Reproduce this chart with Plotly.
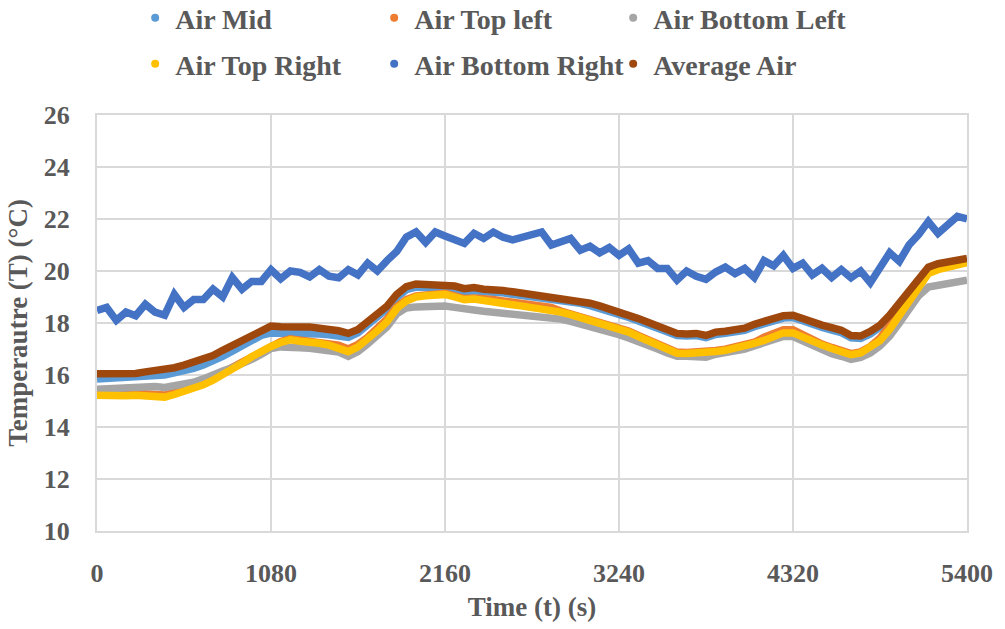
import plotly.graph_objects as go

# time axis (s), sampled every 60 s
time_s = list(range(0, 5401, 60))

air_mid = [15.85, 15.87, 15.85, 15.90, 15.90, 15.93, 15.96, 16.00, 16.08, 16.15,
           16.25, 16.38, 16.52, 16.72, 16.92, 17.12, 17.32, 17.52, 17.62, 17.62,
           17.63, 17.60, 17.60, 17.58, 17.55, 17.50, 17.45, 17.62, 17.95, 18.25,
           18.55, 18.98, 19.28, 19.38, 19.36, 19.38, 19.36, 19.30, 19.20, 19.24,
           19.20, 19.20, 19.16, 19.10, 19.06, 19.01, 18.98, 18.93, 18.88, 18.81,
           18.76, 18.67, 18.57, 18.46, 18.34, 18.21, 18.08, 17.94, 17.81, 17.66,
           17.52, 17.50, 17.52, 17.44, 17.56, 17.60, 17.66, 17.72, 17.86, 17.99,
           18.11, 18.19, 18.21, 18.06, 17.91, 17.83, 17.73, 17.63, 17.43, 17.41,
           17.58, 17.84, 18.22, 18.66, 19.10, 19.64, 20.06, 20.20, 20.27, 20.33,
           20.38]

air_top_left = [15.30, 15.28, 15.26, 15.28, 15.30, 15.28, 15.30, 15.23, 15.33, 15.43,
                15.56, 15.70, 15.90, 16.10, 16.32, 16.55, 16.76, 16.97, 17.14, 17.29,
                17.39, 17.34, 17.32, 17.26, 17.19, 17.15, 17.00, 17.18, 17.45, 17.80,
                18.15, 18.63, 18.90, 19.04, 19.09, 19.14, 19.14, 19.04, 18.94, 18.96,
                18.95, 18.90, 18.85, 18.80, 18.75, 18.70, 18.65, 18.60, 18.46, 18.36,
                18.26, 18.12, 18.01, 17.92, 17.84, 17.69, 17.52, 17.36, 17.19, 17.02,
                16.88, 16.87, 16.89, 16.86, 16.94, 16.99, 17.06, 17.14, 17.26, 17.45,
                17.60, 17.74, 17.74, 17.55, 17.32, 17.19, 17.06, 16.94, 16.82, 16.89,
                17.10, 17.42, 17.85, 18.38, 18.90, 19.44, 19.94, 20.09, 20.19, 20.29,
                20.36]

air_bottom_left = [15.45, 15.48, 15.50, 15.52, 15.50, 15.55, 15.56, 15.52, 15.58, 15.65,
                   15.72, 15.85, 16.02, 16.15, 16.28, 16.42, 16.60, 16.80, 17.02, 17.08,
                   17.10, 17.05, 17.03, 17.00, 16.97, 16.88, 16.72, 16.90, 17.20, 17.50,
                   17.85, 18.35, 18.58, 18.62, 18.62, 18.68, 18.65, 18.60, 18.52, 18.50,
                   18.45, 18.42, 18.38, 18.32, 18.28, 18.25, 18.22, 18.20, 18.15, 18.06,
                   17.97, 17.85, 17.75, 17.65, 17.55, 17.42, 17.30, 17.15, 17.00, 16.85,
                   16.72, 16.72, 16.72, 16.68, 16.80, 16.85, 16.95, 17.00, 17.12, 17.22,
                   17.35, 17.48, 17.48, 17.30, 17.10, 16.95, 16.82, 16.72, 16.60, 16.68,
                   16.85, 17.12, 17.50, 18.00, 18.55, 19.05, 19.38, 19.45, 19.52, 19.60,
                   19.65]

air_top_right = [15.22, 15.20, 15.18, 15.20, 15.22, 15.20, 15.22, 15.15, 15.25, 15.35,
                 15.48, 15.62, 15.80, 16.00, 16.22, 16.45, 16.70, 16.92, 17.10, 17.25,
                 17.35, 17.30, 17.28, 17.22, 17.15, 17.05, 16.90, 17.08, 17.35, 17.70,
                 18.05, 18.55, 18.85, 19.00, 19.05, 19.10, 19.10, 19.00, 18.90, 18.92,
                 18.85, 18.80, 18.75, 18.70, 18.65, 18.60, 18.55, 18.50, 18.42, 18.32,
                 18.22, 18.08, 17.97, 17.88, 17.80, 17.65, 17.48, 17.32, 17.15, 16.98,
                 16.84, 16.83, 16.85, 16.82, 16.90, 16.95, 17.02, 17.10, 17.22, 17.33,
                 17.48, 17.62, 17.62, 17.45, 17.28, 17.15, 17.02, 16.90, 16.78, 16.85,
                 17.05, 17.32, 17.75, 18.30, 18.85, 19.40, 19.90, 20.05, 20.15, 20.25,
                 20.32]

air_bottom_right = [18.48, 18.60, 18.10, 18.42, 18.28, 18.72, 18.42, 18.30, 19.10, 18.60,
                    18.90, 18.90, 19.30, 19.00, 19.75, 19.30, 19.60, 19.60, 20.05, 19.70,
                    20.00, 19.95, 19.77, 20.05, 19.80, 19.74, 20.05, 19.85, 20.30, 20.00,
                    20.40, 20.75, 21.30, 21.50, 21.10, 21.50, 21.35, 21.20, 21.06, 21.45,
                    21.25, 21.50, 21.30, 21.20, 21.30, 21.35, 21.50, 21.00, 21.10, 21.25,
                    20.80, 20.95, 20.70, 20.90, 20.60, 20.85, 20.30, 20.40, 20.10, 20.10,
                    19.65, 20.00, 19.80, 19.68, 19.96, 20.15, 19.90, 20.10, 19.75, 20.40,
                    20.20, 20.60, 20.10, 20.30, 19.85, 20.10, 19.75, 20.05, 19.74, 20.00,
                    19.55, 20.10, 20.70, 20.37, 21.00, 21.40, 21.90, 21.45, 21.80, 22.10,
                    22.00]

average_air = [16.05, 16.05, 16.02, 16.08, 16.06, 16.12, 16.15, 16.18, 16.28, 16.38,
               16.48, 16.60, 16.75, 16.95, 17.15, 17.35, 17.55, 17.75, 17.88, 17.86,
               17.87, 17.84, 17.85, 17.80, 17.78, 17.70, 17.60, 17.75, 18.05, 18.35,
               18.65, 19.10, 19.40, 19.50, 19.48, 19.52, 19.50, 19.42, 19.32, 19.36,
               19.30, 19.30, 19.25, 19.20, 19.15, 19.10, 19.07, 19.02, 18.97, 18.90,
               18.85, 18.76, 18.66, 18.55, 18.43, 18.30, 18.17, 18.03, 17.90, 17.75,
               17.60, 17.58, 17.60, 17.52, 17.65, 17.68, 17.75, 17.80, 17.95, 18.08,
               18.20, 18.28, 18.30, 18.15, 18.00, 17.92, 17.82, 17.72, 17.52, 17.50,
               17.68, 17.92, 18.30, 18.75, 19.20, 19.75, 20.15, 20.28, 20.35, 20.42,
               20.48]

series_names = ["Air Mid", "Air Top left", "Air Bottom Left",
                "Air Top Right", "Air Bottom Right", "Average Air"]
series_values = [air_mid, air_top_left, air_bottom_left,
                 air_top_right, air_bottom_right, average_air]
series_colors = ["#5B9BD5", "#ED7D31", "#A5A5A5", "#FFC000", "#4472C4", "#9E480E"]

x_ticks = [0, 1080, 2160, 3240, 4320, 5400]
y_ticks = [10, 12, 14, 16, 18, 20, 22, 24, 26]

FONT = "Liberation Serif"
TXT = "#595959"
GRID = "#D9D9D9"

fig = go.Figure()
for name, vals, col in zip(series_names, series_values, series_colors):
    fig.add_trace(go.Scatter(x=time_s, y=vals, mode="lines", name=name,
                             line=dict(color=col, width=7.5),
                             showlegend=False, hoverinfo="x+y"))

# legend entries (marker dots), two rows
for i, (name, col) in enumerate(zip(series_names, series_colors)):
    fig.add_trace(go.Scatter(x=[None], y=[None], mode="markers", name=name,
                             marker=dict(color=col, size=8),
                             legend="legend" if i < 3 else "legend2"))

legend_common = dict(orientation="h", xref="container", yref="container",
                     xanchor="left", yanchor="middle",
                     entrywidth=194, entrywidthmode="pixels",
                     font=dict(family=FONT, size=28, color=TXT, weight="bold"),
                     bgcolor="rgba(0,0,0,0)", itemclick=False)

fig.update_layout(
    width=1005, height=629,
    margin=dict(l=97, r=32, t=115, b=91),
    paper_bgcolor="white", plot_bgcolor="white",
    font=dict(family=FONT, color=TXT, weight="bold"),
    legend=dict(x=0.1345, y=1 - 18 / 629, **legend_common),
    legend2=dict(x=0.1345, y=1 - 64 / 629, **legend_common),
    xaxis=dict(range=[0, 5400], tickvals=x_ticks, ticktext=[str(v) for v in x_ticks],
               showgrid=True, gridcolor=GRID, gridwidth=2,
               showline=True, linecolor=GRID, linewidth=2, mirror=True,
               ticks="outside", ticklen=18, tickcolor="rgba(0,0,0,0)",
               tickfont=dict(family=FONT, size=26, color=TXT, weight="bold"),
               zeroline=False,
               title=dict(text="Time (t) (s)", standoff=10,
                          font=dict(family=FONT, size=27, color=TXT, weight="bold"))),
    yaxis=dict(range=[10, 26], tickvals=y_ticks,
               showgrid=True, gridcolor=GRID, gridwidth=2,
               showline=True, linecolor=GRID, linewidth=2, mirror=True,
               ticks="outside", ticklen=20, tickcolor="rgba(0,0,0,0)",
               tickfont=dict(family=FONT, size=26, color=TXT, weight="bold"),
               zeroline=False,
               title=dict(text="Temperautre (T) (°C)", standoff=8,
                          font=dict(family=FONT, size=27, color=TXT, weight="bold"))),
)

fig.write_html("out.html")
